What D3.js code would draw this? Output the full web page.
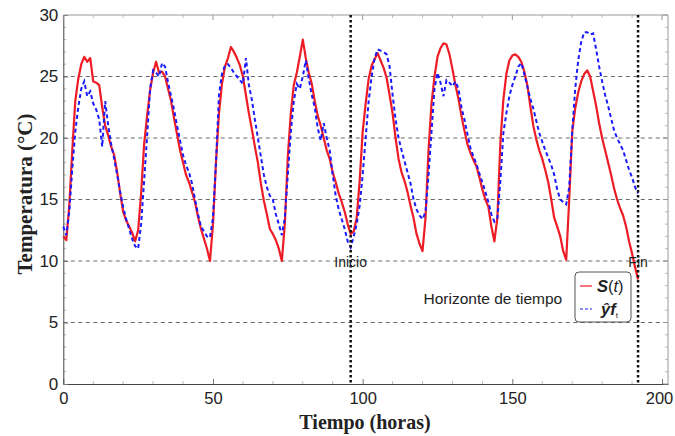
<!DOCTYPE html>
<html><head><meta charset="utf-8">
<script src="https://cdn.jsdelivr.net/npm/d3@7/dist/d3.min.js"></script>
<style>body{margin:0;background:#fff}svg{display:block}</style>
</head><body><svg id="c" width="675" height="436"></svg>
<script>
// Data (hourly, t = 0..192)
const sReal = [12.0,11.7,14.5,19.0,23.0,24.8,26.0,26.6,26.2,26.5,24.6,24.5,24.3,22.5,21.0,20.2,19.3,18.6,17.2,15.5,14.0,13.3,12.8,12.3,11.6,
12.5,15.5,19.5,21.8,23.9,25.3,26.2,25.3,25.4,25.0,24.0,23.0,21.6,20.3,19.0,18.0,17.0,16.4,15.6,14.8,13.6,12.6,11.8,11.0,10.0,
13.0,18.0,22.0,24.4,25.8,26.5,27.4,27.0,26.5,25.9,25.0,23.5,22.0,20.7,19.3,18.0,16.3,14.9,13.8,12.6,12.2,11.7,11.0,10.0,
13.0,18.5,22.0,24.3,25.3,26.6,28.0,26.5,25.3,24.4,23.0,21.8,21.0,20.0,19.0,18.3,17.2,16.4,15.5,14.8,14.0,13.0,12.2,
12.4,13.5,16.5,20.5,22.8,24.8,25.9,26.4,26.9,26.3,25.7,24.9,23.5,22.0,20.0,18.3,17.2,16.5,15.6,14.5,13.5,12.2,11.4,10.8,
13.5,19.0,22.8,25.0,26.6,27.3,27.7,27.6,26.8,25.6,24.3,23.2,21.8,20.6,19.5,18.8,18.2,17.7,16.8,15.8,15.0,14.4,12.8,11.6,
13.5,19.6,23.1,25.2,26.3,26.7,26.8,26.6,26.2,25.4,24.3,22.6,21.0,19.9,19.0,18.3,17.4,16.4,15.0,13.5,12.8,12.0,10.8,10.1,
15.0,20.5,22.4,23.7,24.6,25.2,25.5,25.0,23.8,22.6,21.2,20.0,19.0,18.0,17.0,15.9,15.0,14.3,13.7,12.8,11.6,10.6,9.5,8.5];
const yForecast = [12.8,12.1,14.0,17.5,20.5,22.5,24.0,24.6,23.4,23.8,22.8,22.3,21.5,19.3,23.0,21.0,19.5,18.3,17.0,15.6,14.4,13.4,12.6,11.8,11.2,
11.0,13.0,16.5,20.2,24.0,25.5,25.3,25.0,26.1,25.8,24.5,23.4,22.3,21.0,19.8,18.6,17.8,17.2,16.3,15.0,13.8,12.8,12.4,12.0,11.9,
13.5,18.0,23.5,25.2,25.9,26.0,25.7,25.3,25.0,24.7,24.4,26.5,24.3,23.1,21.5,20.0,18.5,17.0,16.0,15.3,15.0,13.8,13.0,12.1,
13.5,17.0,20.5,23.0,24.4,24.0,25.0,26.3,24.8,23.5,22.5,20.8,19.8,21.2,20.0,19.0,17.0,15.3,14.2,13.4,12.6,11.6,11.1,
12.0,13.0,14.5,17.0,20.0,23.0,25.0,26.5,27.2,27.1,27.0,26.8,25.8,23.5,21.5,20.0,19.0,18.1,17.2,16.3,15.0,14.2,13.7,13.4,
14.0,17.0,20.5,24.0,25.3,24.5,23.4,24.7,24.5,24.2,24.6,24.0,22.5,21.5,20.3,19.2,18.5,17.9,17.1,16.4,15.6,14.8,13.8,13.2,
13.5,16.5,20.4,22.0,23.4,24.3,25.0,25.8,26.1,25.2,24.2,23.2,22.4,21.4,20.4,19.7,19.0,18.4,17.8,17.0,15.8,15.0,14.8,14.6,
16.0,20.5,24.0,26.3,27.8,28.6,28.6,28.4,28.5,27.2,25.8,24.6,23.5,22.6,21.6,20.6,20.0,19.5,19.0,18.2,17.4,16.8,16.0,15.5];
const hours = d3.range(sReal.length);
const xTicks = [0,50,100,150,200];
const yTicks = [0,5,10,15,20,25,30];
const gridValues = [5,10,15,20,25];
const horizonLines = [96,192];
const horizonLabels = ["Inicio","Fin"];

const svg = d3.select("#c");
const L=63.3, R=668, T=15, B=384;
const x = d3.scaleLinear().domain([0,202]).range([L,R]);
const y = d3.scaleLinear().domain([0,30]).range([B,T]);

// grid
svg.append("g").selectAll("line").data(gridValues).join("line")
 .attr("x1",L).attr("x2",R).attr("y1",d=>y(d)).attr("y2",d=>y(d))
 .attr("stroke","#6a6a6a").attr("stroke-width",1).attr("stroke-dasharray","4,3.5");

// minor ticks
const mx = d3.range(10,201,10).filter(d=>d%50!==0);
const my = d3.range(1,30,1).filter(d=>d%5!==0);
const mg = svg.append("g").attr("stroke","#aaa").attr("stroke-width",0.8);
mx.forEach(d=>{mg.append("line").attr("x1",x(d)).attr("x2",x(d)).attr("y1",B).attr("y2",B-3);
 mg.append("line").attr("x1",x(d)).attr("x2",x(d)).attr("y1",T).attr("y2",T+3);});
my.forEach(d=>{mg.append("line").attr("x1",L).attr("x2",L+3).attr("y1",y(d)).attr("y2",y(d));
 mg.append("line").attr("x1",R).attr("x2",R-3).attr("y1",y(d)).attr("y2",y(d));});

// axes
const fontTick = "'Liberation Sans', Arial, sans-serif";
const xa = svg.append("g").attr("transform",`translate(0,${B})`)
 .call(d3.axisBottom(x).tickValues(xTicks).tickSizeInner(-5).tickSizeOuter(0).tickPadding(8));
const ya = svg.append("g").attr("transform",`translate(${L},0)`)
 .call(d3.axisLeft(y).tickValues(yTicks).tickSizeInner(-5).tickSizeOuter(0).tickPadding(5));
[xa,ya].forEach(a=>{a.selectAll("text").attr("font-family",fontTick).attr("font-size",17).attr("fill","#222");
 a.select(".domain").attr("stroke","#444");a.selectAll(".tick line").attr("stroke","#777");});
xa.selectAll("text").attr("font-size",16.5).filter(d=>d===200).attr("dx",-3);
// top/right frame
svg.append("line").attr("x1",L).attr("x2",R).attr("y1",T).attr("y2",T).attr("stroke","#999");
svg.append("line").attr("x1",R).attr("x2",R).attr("y1",T).attr("y2",B).attr("stroke","#999");
xTicks.forEach(d=>svg.append("line").attr("x1",x(d)).attr("x2",x(d)).attr("y1",T).attr("y2",T+5).attr("stroke","#999"));
yTicks.forEach(d=>svg.append("line").attr("x1",R).attr("x2",R-5).attr("y1",y(d)).attr("y2",y(d)).attr("stroke","#999"));

// lines
const line = d3.line().x((d,i)=>x(hours[i])).y(d=>y(d));
svg.append("path").datum(sReal).attr("d",line).attr("fill","none")
 .attr("stroke","#ee1c25").attr("stroke-width",2.2).attr("stroke-linejoin","round");
svg.append("path").datum(yForecast).attr("d",line).attr("fill","none")
 .attr("stroke","#1a1aff").attr("stroke-width",2).attr("stroke-dasharray","4,3");

// horizon lines
svg.append("g").selectAll("line").data(horizonLines).join("line")
 .attr("x1",d=>x(d)).attr("x2",d=>x(d)).attr("y1",T).attr("y2",B)
 .attr("stroke","#111").attr("stroke-width",2.5).attr("stroke-dasharray","2.5,2.5");
svg.append("g").selectAll("text").data(horizonLabels).join("text")
 .attr("x",(d,i)=>x(horizonLines[i])).attr("y",y(10)+5.5).attr("text-anchor","middle")
 .attr("font-family",fontTick).attr("font-size",14).attr("fill","#222").text(d=>d);
svg.append("text").attr("x",x(143.5)).attr("y",303.5).attr("text-anchor","middle")
 .attr("font-family",fontTick).attr("font-size",15.5).attr("fill","#222").text("Horizonte de tiempo");

// axis titles
const fontTitle = "'Liberation Serif','Times New Roman',serif";
svg.append("text").attr("x",365).attr("y",429).attr("text-anchor","middle")
 .attr("font-family",fontTitle).attr("font-weight","bold").attr("font-size",20).attr("fill","#222").text("Tiempo (horas)");
svg.append("text").attr("transform","translate(32,194) rotate(-90)").attr("text-anchor","middle")
 .attr("font-family",fontTitle).attr("font-weight","bold").attr("font-size",21).attr("fill","#222").text("Temperatura (°C)");

// legend
const lg = svg.append("g").attr("transform","translate(575,272)");
lg.append("rect").attr("width",56).attr("height",50).attr("rx",4).attr("fill","#fff").attr("stroke","#555").attr("stroke-width",1);
lg.append("line").attr("x1",5).attr("x2",17).attr("y1",14).attr("y2",14).attr("stroke","#ee1c25").attr("stroke-width",1.2);
lg.append("line").attr("x1",5).attr("x2",17).attr("y1",37).attr("y2",37).attr("stroke","#1a1aff").attr("stroke-width",1.2).attr("stroke-dasharray","3,2");
const t1 = lg.append("text").attr("x",22).attr("y",20).attr("font-family",fontTick).attr("font-size",16.5).attr("fill","#222");
t1.append("tspan").attr("font-weight","bold").attr("font-style","italic").text("S");
t1.append("tspan").text("(");
t1.append("tspan").attr("font-style","italic").text("t");
t1.append("tspan").text(")");
const t2 = lg.append("text").attr("x",26).attr("y",43).attr("font-family",fontTick).attr("font-size",16.5).attr("fill","#222");
t2.append("tspan").attr("font-weight","bold").attr("font-style","italic").text("ŷ");
t2.append("tspan").attr("font-weight","bold").attr("font-style","italic").text("f");
t2.append("tspan").attr("font-size",8).attr("dy",3).text("t");
</script></body></html>
